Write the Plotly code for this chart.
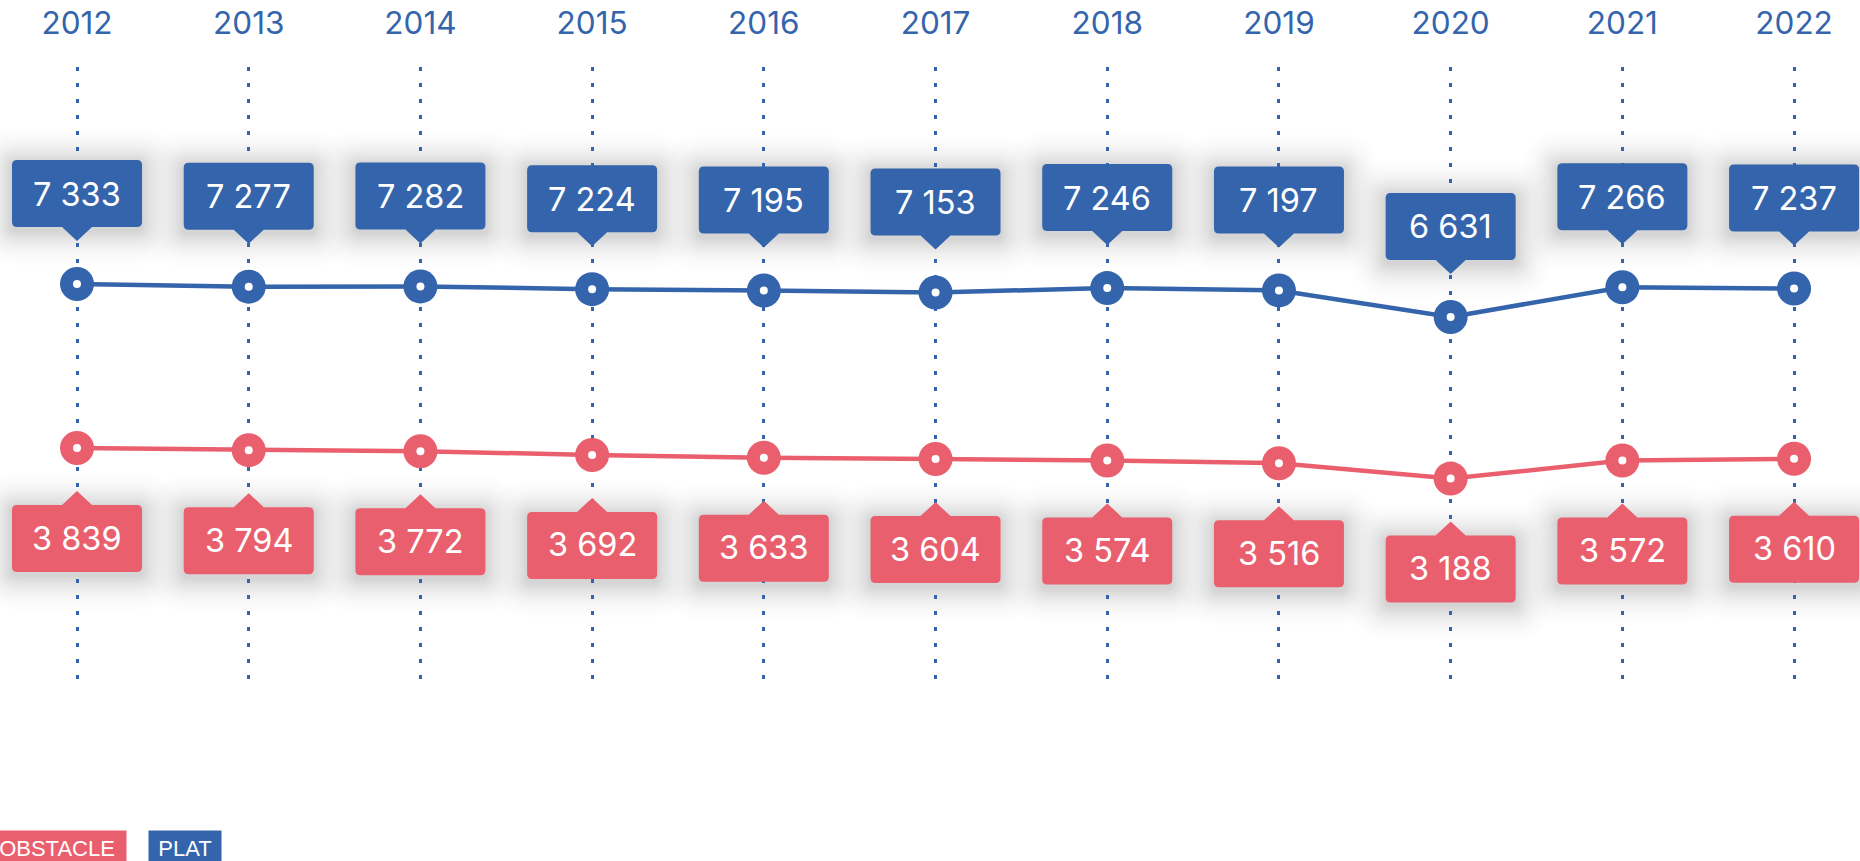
import math
import plotly.graph_objects as go

years = [2012, 2013, 2014, 2015, 2016, 2017, 2018, 2019, 2020, 2021, 2022]
plat = [7333, 7277, 7282, 7224, 7195, 7153, 7246, 7197, 6631, 7266, 7237]
obstacle = [3839, 3794, 3772, 3692, 3633, 3604, 3574, 3516, 3188, 3572, 3610]
series_names = ["OBSTACLE", "PLAT"]

BLUE = "#3464ac"
RED = "#ea5f6d"
FONT = "Inter"

W, H = 1860, 861


def fmt(v):
    return f"{v:,}".replace(",", " ")


def box_path(sign, w=130, h=67, gap=57, ph=14, hw=15, r=5, grow=0.0, dy=0.0):
    # sign=+1: box above anchor with pointer down; sign=-1: box below with pointer up
    x0, x1 = -w / 2 - grow, w / 2 + grow
    yb, yt = gap - grow, gap + h + grow

    def Y(y):
        return sign * y + dy

    p = f"M {x0 + r},{Y(yb)} "
    if grow == 0:
        p += f"L {-hw},{Y(yb)} L 0,{Y(yb - ph)} L {hw},{Y(yb)} "
    p += f"L {x1 - r},{Y(yb)} Q {x1},{Y(yb)} {x1},{Y(yb + r)} "
    p += f"L {x1},{Y(yt - r)} Q {x1},{Y(yt)} {x1 - r},{Y(yt)} "
    p += f"L {x0 + r},{Y(yt)} Q {x0},{Y(yt)} {x0},{Y(yt - r)} "
    p += f"L {x0},{Y(yb + r)} Q {x0},{Y(yb)} {x0 + r},{Y(yb)} Z"
    return p


# soft shadow profile (blurred edge)
SH_A, SH_SIG, SH_STEP, SH_N = 0.34, 18.0, 2.0, 32


def shadow_f(d):
    return SH_A * 0.5 * math.erfc(d / (SH_SIG * math.sqrt(2)))


shadow_layers = []
for k in range(SH_N, 0, -1):
    g = k * SH_STEP
    a = shadow_f(g - SH_STEP) - shadow_f(g)
    if k == 1:
        a = shadow_f(0) - shadow_f(g)
    shadow_layers.append((g, a))

fig = go.Figure()

for name, vals, col in [("PLAT", plat, BLUE), ("OBSTACLE", obstacle, RED)]:
    fig.add_trace(go.Scatter(
        x=years, y=vals, mode="lines+markers", name=name,
        line=dict(color=col, width=4.5),
        marker=dict(size=34, color=col),
        showlegend=False, hoverinfo="skip",
    ))
    fig.add_trace(go.Scatter(
        x=years, y=vals, mode="markers",
        marker=dict(size=8, color="white"),
        showlegend=False, hoverinfo="skip",
    ))

shapes = []
annotations = []
for vals, col, sign in [(plat, BLUE, 1), (obstacle, RED, -1)]:
    for yr, v in zip(years, vals):
        for g, a in shadow_layers:
            shapes.append(dict(
                type="path", xref="x", yref="y", xsizemode="pixel", ysizemode="pixel",
                xanchor=yr, yanchor=v, path=box_path(sign, grow=g, r=5 + g, dy=-3),
                fillcolor="black", opacity=round(a, 5), line=dict(width=0), layer="below",
            ))
        shapes.append(dict(
            type="path", xref="x", yref="y", xsizemode="pixel", ysizemode="pixel",
            xanchor=yr, yanchor=v, path=box_path(sign),
            fillcolor=col, line=dict(width=0), layer="above",
        ))
        annotations.append(dict(
            x=yr, y=v, xref="x", yref="y", text=fmt(v), showarrow=False,
            yshift=sign * 90, font=dict(family=FONT, size=32.5, color="white"),
        ))

# legend-like labels
legend_cols = {"OBSTACLE": RED, "PLAT": BLUE}
annotations.append(dict(
    x=127 / W, y=-0.262, xref="paper", yref="paper", xanchor="right", yanchor="middle",
    text=series_names[0], showarrow=False, bgcolor=legend_cols[series_names[0]],
    borderpad=5, width=128, align="center",
    font=dict(family="Liberation Sans", size=22, color="white"),
))
annotations.append(dict(
    x=148 / W, y=-0.262, xref="paper", yref="paper", xanchor="left", yanchor="middle",
    text=series_names[1], showarrow=False, bgcolor=legend_cols[series_names[1]],
    borderpad=5, width=62, align="center",
    font=dict(family="Liberation Sans", size=22, color="white"),
))

fig.update_layout(
    width=W, height=H, template="none",
    paper_bgcolor="white", plot_bgcolor="white",
    margin=dict(l=0, r=0, t=67, b=175, pad=0),
    shapes=shapes, annotations=annotations,
    xaxis=dict(
        range=[2011.5515, 2022.384], side="top", tickmode="array",
        tickvals=years, ticktext=[str(y) for y in years],
        showgrid=True, gridcolor=BLUE, gridwidth=2.5, griddash="4px,12px",
        zeroline=False, showline=False, ticks="",
        tickfont=dict(family=FONT, size=31.5, color=BLUE),
        ticklabelstandoff=26, fixedrange=True,
    ),
    yaxis=dict(range=[-1230, 11956], visible=False, showgrid=False, zeroline=False, fixedrange=True),
    showlegend=False,
)

fig.write_html(
    "out.html",
    config={"displayModeBar": False},
    post_script="document.body.style.margin='0';document.body.style.overflow='hidden';",
)
